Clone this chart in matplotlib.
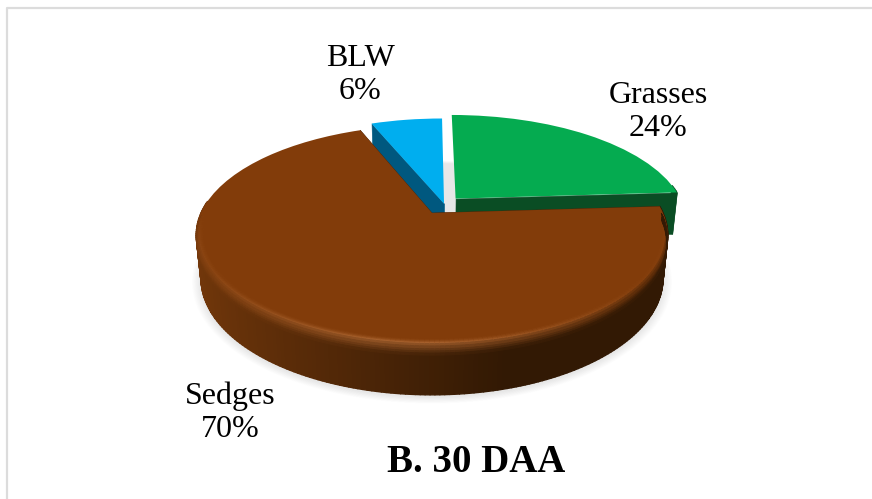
import numpy as np
import matplotlib
matplotlib.use('Agg')
import matplotlib.pyplot as plt
from matplotlib.collections import PolyCollection
from matplotlib.colors import to_rgb
from matplotlib.transforms import Transform

categories = ['Grasses', 'Sedges', 'BLW']
values = [24, 70, 6]  # %
title = 'B. 30 DAA'

face_colors = ['#05ab50', '#823c0a', '#00aeef']
wall_colors = ['#0a4d24', '#4a2407', '#00587f']
offsets = [(0.105, 0.14), (0.0, 0.0), (0.053, 0.09)]  # slice shift on the pie plane
layers = [2, 6, 4]
label_pos = [(658, 112), (230, 413), (360, 75)]

# perspective of the pie, in pixels
cx, cy = 432, 213
rx, ry = 231, 105.6
persp = 0.2
depth = 43.5


def project(u, v, z=0.0):
    w = 1 + persp * np.asarray(v) + 0.02 * np.asarray(z)
    return cx + rx * np.asarray(u) / w, cy + (depth * np.asarray(z) - ry * np.asarray(v)) / w


class Tilt(Transform):
    input_dims = output_dims = 2
    has_inverse = False

    def __init__(self, du, dv):
        super().__init__()
        self.du, self.dv = du, dv

    def transform_non_affine(self, values):
        x, y = project(values[:, 0] + self.du, values[:, 1] + self.dv)
        return np.column_stack([x, y])


def mix(a, b, t):
    a, b = np.array(to_rgb(a)), np.array(to_rgb(b))
    return tuple(a + (b - a) * t)


def quad(t0, t1, r0, z0, r1, z1, du, dv):
    pts = []
    for t, r, z in [(t0, r0, z0), (t1, r0, z0), (t1, r1, z1), (t0, r1, z1)]:
        x, y = project(r * np.cos(t) + du, r * np.sin(t) + dv, z)
        pts.append((float(x), float(y)))
    return pts


def wall_shade(u):
    # lighter on the left of the pie, darkest towards the right
    return mix('#74380b', '#321904', np.clip((u + 1.0) / 1.25, 0, 1))


fig = plt.figure(figsize=(8.72, 4.99), dpi=100)
ax = fig.add_axes([0, 0, 1, 1])

wedges, _ = ax.pie(values, startangle=90, counterclock=False, colors=face_colors)

ax.set_aspect('auto')
ax.set_xlim(0, 872)
ax.set_ylim(499, 0)
ax.axis('off')

# panel border, only top and left show
ax.plot([7, 7, 872], [499, 7.5, 7.5], color='#dcdcdc', lw=1.6, zorder=0)

# soft shadow under the pie
angles = np.linspace(0, 2 * np.pi, 200)
for s in np.linspace(1.035, 1.0, 12):
    sx, sy = project(s * np.cos(angles), s * np.sin(angles) - 0.015, 1.0)
    ax.fill(sx, sy, color='black', alpha=0.009, lw=0, zorder=1)

for wedge, top, wall, (du, dv), layer in zip(wedges, face_colors, wall_colors, offsets, layers):
    wedge.set_transform(Tilt(du, dv) + ax.transData)
    wedge.set_linewidth(0)
    wedge.set_zorder(layer + 0.5)
    big = wall == wall_colors[1]

    # outer wall, only the part that faces the viewer
    t_range = np.radians(np.arange(wedge.theta1, wedge.theta2 + 1, 1.0))
    t_range = np.clip(t_range, np.radians(wedge.theta1), np.radians(wedge.theta2))
    quads, cols = [], []
    for t0, t1 in zip(t_range[:-1], t_range[1:]):
        if np.sin(t0) > 0.12:
            continue
        quads.append(quad(t0, t1, 1, 0, 1, 1, du, dv))
        cols.append(wall_shade(np.cos(t0)) if big else to_rgb(wall))
    if quads:
        ax.add_collection(PolyCollection(quads, facecolors=cols, edgecolors=cols, linewidths=1.0, zorder=layer))

    # flat cut faces of the slice, the one on the 12 o'clock line is edge-on
    cuts = []
    for deg in [wedge.theta1, wedge.theta2]:
        if abs(deg % 360 - 90) < 1e-6:
            continue
        t = np.radians(deg)
        x = [0, np.cos(t), np.cos(t), 0]
        y = [0, np.sin(t), np.sin(t), 0]
        z = [0, 0, 1, 1]
        px, py = project(np.array(x) + du, np.array(y) + dv, np.array(z))
        cuts.append(np.column_stack([px, py]))
    ax.add_collection(PolyCollection(cuts, facecolors=wall, edgecolors=wall, linewidths=0.4, zorder=layer + 0.2))

    # soft rounded rim at the front of the big slice
    if big:
        quads, cols = [], []
        steps = np.linspace(0, 1, 13)
        for t0, t1 in zip(t_range[:-1], t_range[1:]):
            u, v = np.cos(t0), np.sin(t0)
            if v > 0.0:
                continue
            fade = np.clip(-v / 0.3, 0, 1)
            glow = np.clip((0.9 - u) / 0.9, 0.1, 1) * np.clip((u + 1.1) / 0.9, 0.25, 1)
            edge = wall_shade(u)
            light = mix(top, '#a9632f', glow)
            for a, b in zip(steps[:-1], steps[1:]):
                r0, r1 = 0.96 + 0.04 * min(a / 0.75, 1), 0.96 + 0.04 * min(b / 0.75, 1)
                z0, z1 = 0.2 * max(a - 0.6, 0) / 0.4, 0.2 * max(b - 0.6, 0) / 0.4
                m = (a + b) / 2
                if m < 0.55:
                    c = mix(top, light, (m / 0.55) ** 2)
                else:
                    c = mix(light, edge, ((m - 0.55) / 0.45) ** 0.7)
                c = mix(top, c, fade) if m < 0.7 else mix(edge, c, fade)
                quads.append(quad(t0, t1, r0, z0, r1, z1, du, dv))
                cols.append(c)
        ax.add_collection(PolyCollection(quads, facecolors=cols, edgecolors=cols, linewidths=0.7, zorder=layer + 1))

serif = 'Liberation Serif'
for name, val, (x, y) in zip(categories, values, label_pos):
    ax.text(x, y, f'{name}\n{val}%', ha='center', va='center', family=serif, fontsize=23,
            linespacing=1.2, color='black', zorder=10)
ax.text(476, 462, title, ha='center', va='center', family=serif, fontsize=28, fontweight='bold', zorder=10)

fig.savefig('out.png', dpi=100)
